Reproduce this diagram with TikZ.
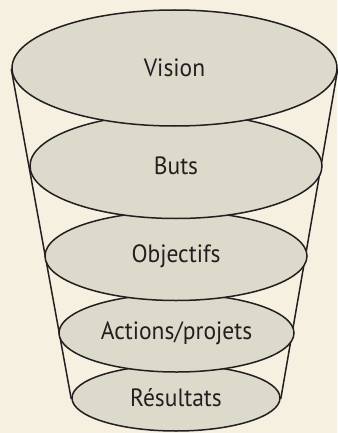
\documentclass[tikz,border=0pt]{standalone}
\usepackage{fontspec}
\setmainfont{PT Sans}[FakeStretch=0.94]
\usetikzlibrary{shapes.geometric}
\definecolor{bgc}{RGB}{245,240,224}
\definecolor{fillc}{RGB}{220,218,203}
\definecolor{linec}{RGB}{35,31,32}
\tikzset{
  level/.style={ellipse, draw=linec, fill=fillc, line width=1.5pt, inner sep=0pt,
    text=linec, font=\fontsize{25}{30}\selectfont},
  funnel/.style={draw=linec, line width=1.5pt}
}
\begin{document}
\begin{tikzpicture}[x=1pt,y=-1pt]
\fill[bgc] (0,0) rectangle (337,433);
\useasboundingbox (0,0) rectangle (337,433);
% invisible placement nodes for funnel geometry
\node[level, minimum width=208pt, minimum height=66pt, draw=none, fill=none] (r0) at (176,399) {};
\node[level, minimum width=325pt, minimum height=116pt, draw=none, fill=none] (v0) at (174.5,69) {};
\draw[funnel] (v0.west) -- (r0.west);
\draw[funnel] (v0.east) -- (r0.east);
\node[level, minimum width=208pt, minimum height=66pt] (res) at (176,398) {Résultats};
\node[level, minimum width=235pt, minimum height=78pt] (act) at (176.5,333) {Actions/projets};
\node[level, minimum width=262pt, minimum height=89pt] (obj) at (176,256) {Objectifs};
\node[level, minimum width=292pt, minimum height=105pt] (buts) at (176,166) {Buts};
\node[level, minimum width=325pt, minimum height=116pt] (vis) at (174.5,68) {Vision};
\end{tikzpicture}
\end{document}
